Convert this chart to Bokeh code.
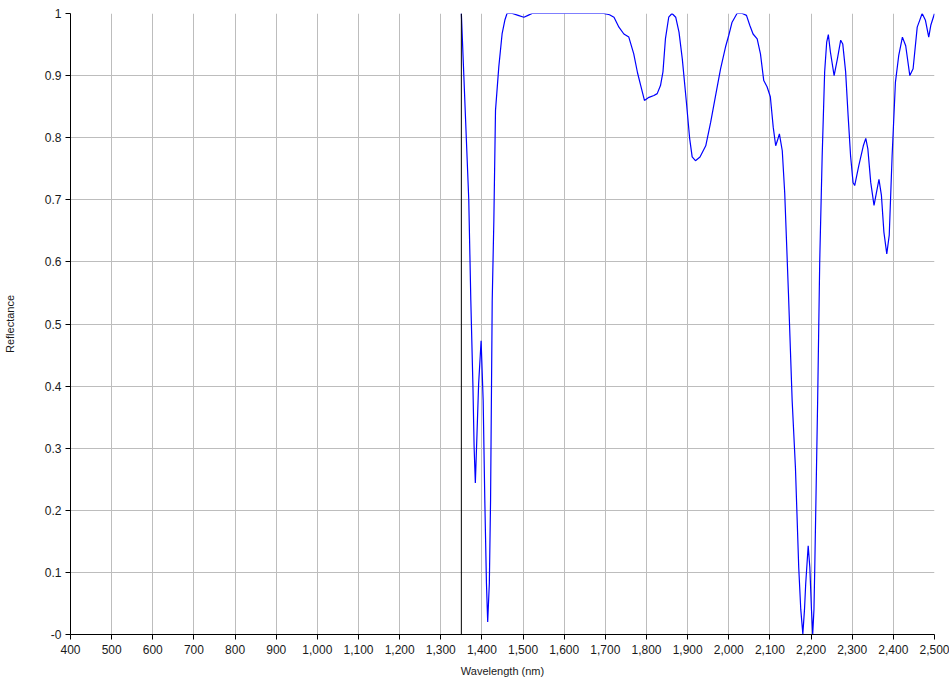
from bokeh.plotting import figure
from bokeh.models import Range1d, FixedTicker, NumeralTickFormatter, Span
from bokeh.embed import file_html
from bokeh.resources import INLINE

wavelength = [1350, 1356, 1362, 1368, 1373, 1378, 1381, 1384, 1388, 1392, 1398,
              1403, 1407, 1411, 1414, 1418, 1421, 1423, 1425, 1429, 1433, 1441,
              1449, 1456, 1461, 1474, 1488, 1502, 1512, 1522, 1600, 1696, 1710,
              1721, 1733, 1745, 1757, 1769, 1778, 1786, 1795, 1806, 1818, 1826,
              1834, 1840, 1846, 1854, 1862, 1871, 1879, 1887, 1897, 1905, 1911,
              1919, 1930, 1944, 1956, 1968, 1980, 1992, 2000, 2008, 2020, 2033,
              2043, 2051, 2059, 2069, 2077, 2085, 2093, 2101, 2108, 2114, 2118,
              2123, 2130, 2136, 2145, 2154, 2162, 2170, 2175, 2180, 2184, 2187,
              2193, 2197, 2201, 2204, 2207, 2209, 2216, 2221, 2227, 2233, 2238,
              2242, 2247, 2256, 2264, 2272, 2277, 2284, 2290, 2296, 2302, 2306,
              2316, 2327, 2333, 2338, 2345, 2353, 2359, 2365, 2371, 2377, 2384,
              2390, 2397, 2405, 2413, 2422, 2430, 2440, 2448, 2458, 2464, 2470,
              2478, 2486, 2491, 2500]
reflectance = [1.000, 0.900, 0.800, 0.700, 0.538, 0.404, 0.302, 0.244, 0.323, 0.404, 0.473,
               0.377, 0.216, 0.082, 0.020, 0.082, 0.216, 0.377, 0.538, 0.667, 0.844, 0.914,
               0.967, 0.990, 1.000, 1.000, 0.997, 0.994, 0.997, 1.000, 1.000, 1.000, 0.998,
               0.994, 0.978, 0.967, 0.962, 0.935, 0.905, 0.884, 0.860, 0.865, 0.868, 0.871,
               0.884, 0.906, 0.959, 0.994, 1.000, 0.994, 0.970, 0.927, 0.857, 0.798, 0.769,
               0.763, 0.769, 0.787, 0.825, 0.868, 0.911, 0.946, 0.965, 0.986, 1.000, 1.000,
               0.997, 0.981, 0.967, 0.959, 0.935, 0.892, 0.882, 0.866, 0.817, 0.787, 0.795,
               0.806, 0.779, 0.710, 0.550, 0.377, 0.269, 0.108, 0.040, 0.001, 0.040, 0.082,
               0.143, 0.108, 0.040, 0.001, 0.040, 0.108, 0.377, 0.600, 0.771, 0.906, 0.954,
               0.966, 0.938, 0.900, 0.927, 0.957, 0.951, 0.906, 0.836, 0.771, 0.728, 0.723,
               0.755, 0.787, 0.799, 0.782, 0.728, 0.691, 0.712, 0.733, 0.707, 0.648, 0.613,
               0.643, 0.771, 0.889, 0.932, 0.962, 0.948, 0.900, 0.911, 0.978, 0.989, 1.000,
               0.989, 0.962, 0.981, 1.000]
marker_wavelength = 1350

x_ticks = [400, 500, 600, 700, 800, 900, 1000, 1100, 1200, 1300, 1400, 1500, 1600,
           1700, 1800, 1900, 2000, 2100, 2200, 2300, 2400, 2500]
y_ticks = [0, 0.1, 0.2, 0.3, 0.4, 0.5, 0.6, 0.7, 0.8, 0.9, 1]
y_tick_labels = ["-0", "0.1", "0.2", "0.3", "0.4", "0.5", "0.6", "0.7", "0.8", "0.9", "1"]

FONT = "Liberation Sans"

p = figure(width=949, height=680, output_backend="svg", toolbar_location=None,
           x_range=Range1d(400, 2500), y_range=Range1d(0, 1),
           min_border_left=70, min_border_right=15, min_border_top=13, min_border_bottom=46)
p.outline_line_color = None
p.background_fill_color = "white"
p.border_fill_color = "white"

p.xaxis.ticker = FixedTicker(ticks=x_ticks)
p.yaxis.ticker = FixedTicker(ticks=y_ticks)
p.xaxis.formatter = NumeralTickFormatter(format="0,0")
p.yaxis.major_label_overrides = {t: l for t, l in zip(y_ticks, y_tick_labels)}

for ax in (p.xaxis, p.yaxis):
    ax.axis_line_color = "black"
    ax.major_tick_line_color = "black"
    ax.major_tick_out = 5
    ax.major_tick_in = 0
    ax.minor_tick_line_color = None
    ax.major_label_text_font = FONT
    ax.major_label_text_font_size = "12px"
    ax.major_label_text_color = "#1a1a1a"
    ax.axis_label_text_font = FONT
    ax.axis_label_text_font_size = "11px"
    ax.axis_label_text_font_style = "normal"
    ax.axis_label_text_color = "#1a1a1a"

p.xaxis.axis_label = "Wavelength (nm)"
p.yaxis.axis_label = "Reflectance"
p.xaxis.axis_label_standoff = 8
p.xaxis.major_label_standoff = 5
p.yaxis.axis_label_standoff = 26
p.yaxis.major_label_standoff = 4

p.grid.grid_line_color = "#bdbdbd"
p.grid.grid_line_width = 1

p.add_layout(Span(location=marker_wavelength, dimension="height",
                  line_color="black", line_width=1))
p.line(wavelength, reflectance, line_color="#0000ff", line_width=1.2)

open("out.html", "w").write(file_html(p, INLINE))
